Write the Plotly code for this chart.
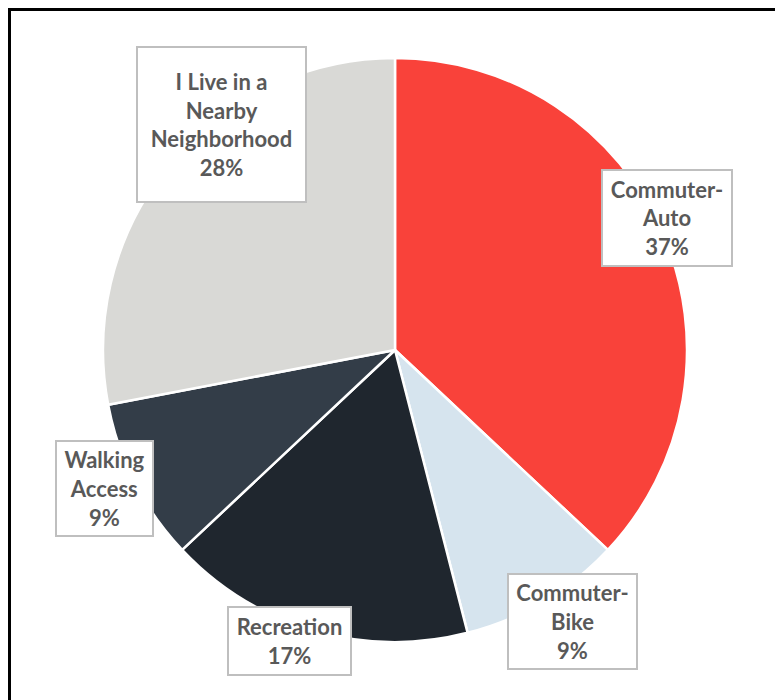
import plotly.graph_objects as go

# Survey: how respondents get to / use the corridor
categories = ["Commuter-Auto", "Commuter-Bike", "Recreation", "Walking Access",
              "I Live in a Nearby Neighborhood"]
shares = [37, 9, 17, 9, 28]
colors = ["#F9423A", "#D6E4EE", "#1F262E", "#333D48", "#D9D9D6"]
# Label text as displayed (with manual line breaks)
label_lines = ["Commuter-<br>Auto", "Commuter-<br>Bike", "Recreation",
               "Walking<br>Access", "I Live in a<br>Nearby<br>Neighborhood"]

W, H = 775, 700

fig = go.Figure(go.Pie(
    labels=categories,
    values=shares,
    sort=False,
    direction="clockwise",
    rotation=0,
    marker=dict(colors=colors, line=dict(color="white", width=2.5)),
    textinfo="none",
    hoverinfo="label+percent",
    domain=dict(x=[103 / W, 687 / W], y=[1 - 642 / H, 1 - 58 / H]),
    showlegend=False,
))

# Label box placement (pixel centres and box sizes)
box_centers = [(667, 218), (572, 621), (289, 641), (104, 488), (221, 124)]
box_sizes = [(132, 98), (131, 97), (125, 70), (99, 97), (171, 157)]

annotations = []
for lab, v, (cx, cy), (bw, bh) in zip(label_lines, shares, box_centers, box_sizes):
    annotations.append(dict(
        text=f"<b>{lab}<br>{v}%</b>",
        x=cx / W, y=1 - cy / H, xref="paper", yref="paper",
        xanchor="center", yanchor="middle",
        showarrow=False,
        align="center",
        width=bw - 4, height=bh - 4, borderpad=0,
        bgcolor="white", bordercolor="#BFBFBF", borderwidth=2,
        font=dict(family="Lato, Open Sans, sans-serif", size=22, color="#595959"),
    ))

fig.update_layout(
    width=W, height=H,
    margin=dict(l=0, r=0, t=0, b=0),
    paper_bgcolor="white",
    plot_bgcolor="white",
    annotations=annotations,
    shapes=[dict(type="rect", xref="paper", yref="paper",
                 x0=9.5 / W, x1=1.02, y0=-0.02, y1=1 - 9.5 / H,
                 line=dict(color="black", width=3), fillcolor="rgba(0,0,0,0)")],
)

fig.write_html("out.html")
